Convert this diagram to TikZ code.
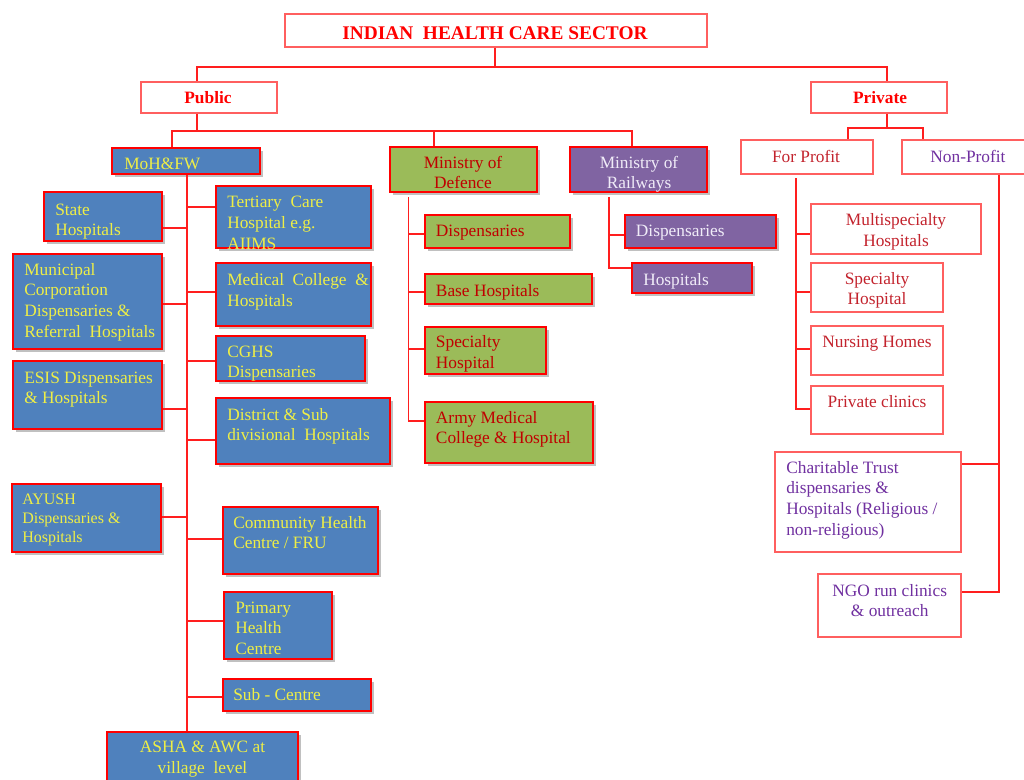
\documentclass[tikz,border=0pt]{standalone}
\usepackage{fontspec}
\setmainfont{Liberation Serif}
\usetikzlibrary{fit,shadows}
\definecolor{boxblue}{RGB}{79,129,189}
\definecolor{boxgreen}{RGB}{155,187,89}
\definecolor{boxpurple}{RGB}{128,100,162}
\definecolor{linered}{RGB}{255,30,30}
\definecolor{lightred}{RGB}{255,95,95}
\definecolor{txtyellow}{RGB}{238,238,70}
\definecolor{txtdark}{RGB}{192,0,0}
\definecolor{txtlav}{RGB}{240,236,248}
\definecolor{txtpurple}{RGB}{112,48,160}
\definecolor{txtred}{RGB}{195,35,45}
\newcommand\tl[1]{\begin{tabular}[t]{@{}l@{}}#1\end{tabular}}
\newcommand\tcn[1]{\begin{tabular}[t]{@{}c@{}}#1\end{tabular}}
\begin{document}
\begin{tikzpicture}[x=0.75pt,y=-0.75pt,
  shbox/.style={draw=red, line width=1.5pt, inner sep=0pt,
    drop shadow={shadow xshift=2pt, shadow yshift=-2pt, opacity=0.35, fill=black!70}},
  bluebox/.style={shbox, fill=boxblue},
  greenbox/.style={shbox, fill=boxgreen},
  purplebox/.style={shbox, fill=boxpurple},
  whitebox/.style={draw=lightred, line width=1.2pt, fill=white, inner sep=0pt},
  conn/.style={draw=linered, line width=1.4pt},
  txt/.style={inner sep=0pt, font=\fontsize{13}{15.5}\selectfont},
  lt/.style={txt, anchor=base west},
  ct/.style={txt, anchor=base},
  hdr/.style={inner sep=0pt, anchor=base, text=red, font=\fontsize{13}{15.5}\selectfont\bfseries}]
\useasboundingbox (0,0) rectangle (1024,779);
\fill[white] (0,0) rectangle (1024,779);

% ---------- top level ----------
\node[whitebox, fit={(285,14)(707,47)}] (title) {};
\node[hdr, font=\fontsize{14.5}{17}\selectfont\bfseries] (title-t) at (495,39.3) {INDIAN\ \ HEALTH CARE SECTOR};
\node[whitebox, fit={(141,82)(277,113)}] (public) {};
\node[hdr] (public-t) at (208,103) {Public};
\node[whitebox, fit={(811,82)(947,113)}] (private) {};
\node[hdr] (private-t) at (880,103) {Private};

% ---------- ministries ----------
\node[bluebox, fit={(112,148)(260,174)}] (moh) {};
\node[lt, text=txtyellow] (moh-t) at (124,169) {MoH\&FW};
\node[greenbox, fit={(390,147)(537,192)}] (mod) {};
\node[ct, text=txtdark] (mod-t) at (463,168) {\tcn{Ministry of\\Defence}};
\node[purplebox, fit={(570,147)(707,192)}] (rail) {};
\node[ct, text=txtlav] (rail-t) at (639,168) {\tcn{Ministry of\\Railways}};
\node[whitebox, fit={(741,140)(873,174)}] (forp) {};
\node[ct, text=txtred] (forp-t) at (806,162) {For Profit};
\node[whitebox, fit={(902,140)(1028,174)}] (nonp) {};
\node[ct, text=txtpurple] (nonp-t) at (968,162) {Non-Profit};

% ---------- MoH&FW children ----------
\node[bluebox, fit={(44,192)(162,241)}] (state) {};
\node[lt, text=txtyellow] (state-t) at (55,215) {\tl{State\\Hospitals}};
\node[bluebox, fit={(216,186)(371,248)}] (tert) {};
\node[lt, text=txtyellow] (tert-t) at (227,207.7) {\tl{Tertiary\ \ Care\\Hospital e.g.\\AIIMS}};
\node[bluebox, fit={(13,254)(162,349)}] (muni) {};
\node[lt, text=txtyellow] (muni-t) at (24,275) {\tl{Municipal\\Corporation\\Dispensaries \&\\Referral\ \ Hospitals}};
\node[bluebox, fit={(216,263)(371,326)}] (med) {};
\node[lt, text=txtyellow] (med-t) at (227,285.7) {\tl{Medical\ \ College\ \ \&\\Hospitals}};
\node[bluebox, fit={(216,336)(365,381)}] (cghs) {};
\node[lt, text=txtyellow] (cghs-t) at (227,357) {\tl{CGHS\\Dispensaries}};
\node[bluebox, fit={(13,361)(162,429)}] (esis) {};
\node[lt, text=txtyellow] (esis-t) at (24,383) {\tl{ESIS Dispensaries\\\& Hospitals}};
\node[bluebox, fit={(216,398)(390,464)}] (dist) {};
\node[lt, text=txtyellow] (dist-t) at (227,420) {\tl{District \& Sub\\divisional\ \ Hospitals}};
\node[bluebox, fit={(12,484)(161,552)}] (ayush) {};
\node[lt, text=txtyellow, font=\fontsize{12}{14.25}\selectfont] (ayush-t) at (22,504) {\tl{AYUSH\\Dispensaries \&\\Hospitals}};
\node[bluebox, fit={(223,507)(378,574)}] (chc) {};
\node[lt, text=txtyellow] (chc-t) at (233,528) {\tl{Community Health\\Centre / FRU}};
\node[bluebox, fit={(224,592)(332,659)}] (phc) {};
\node[lt, text=txtyellow] (phc-t) at (235,613) {\tl{Primary\\Health\\Centre}};
\node[bluebox, fit={(223,679)(371,711)}] (sub) {};
\node[lt, text=txtyellow] (sub-t) at (233,700) {Sub - Centre};
\node[bluebox, fit={(107,732)(298,792)}] (asha) {};
\node[ct, text=txtyellow] (asha-t) at (202.5,752.7) {\tcn{ASHA \& AWC at\\village\ \ level}};

% ---------- Defence children ----------
\node[greenbox, fit={(425,215)(570,248)}] (ddisp) {};
\node[lt, text=txtdark] (ddisp-t) at (435.7,236) {Dispensaries};
\node[greenbox, fit={(425,274)(592,304)}] (dbase) {};
\node[lt, text=txtdark] (dbase-t) at (435.7,296) {Base Hospitals};
\node[greenbox, fit={(425,327)(546,374)}] (dspec) {};
\node[lt, text=txtdark] (dspec-t) at (435.7,347.5) {\tl{Specialty\\Hospital}};
\node[greenbox, fit={(425,402)(593,463)}] (army) {};
\node[lt, text=txtdark] (army-t) at (435.7,423) {\tl{Army Medical\\College \& Hospital}};

% ---------- Railways children ----------
\node[purplebox, fit={(625,215)(776,248)}] (rdisp) {};
\node[lt, text=txtlav] (rdisp-t) at (635.7,236) {Dispensaries};
\node[purplebox, fit={(632,263)(752,293)}] (rhosp) {};
\node[lt, text=txtlav] (rhosp-t) at (643,285) {Hospitals};

% ---------- For profit children ----------
\node[whitebox, fit={(811,204)(981,254)}] (multi) {};
\node[ct, text=txtred] (multi-t) at (896,225.7) {\tcn{Multispecialty\\Hospitals}};
\node[whitebox, fit={(811,263)(943,312)}] (pspec) {};
\node[ct, text=txtred] (pspec-t) at (877,284) {\tcn{Specialty\\Hospital}};
\node[whitebox, fit={(811,326)(943,375)}] (nurs) {};
\node[ct, text=txtred] (nurs-t) at (877,347.7) {Nursing Homes};
\node[whitebox, fit={(811,386)(943,434)}] (clin) {};
\node[ct, text=txtred] (clin-t) at (877,407.7) {Private clinics};

% ---------- Non-profit children ----------
\node[whitebox, fit={(775,452)(961,552)}] (char) {};
\node[lt, text=txtpurple] (char-t) at (786,473) {\tl{Charitable Trust\\dispensaries \&\\Hospitals (Religious /\\non-religious)}};
\node[whitebox, fit={(818,574)(961,637)}] (ngo) {};
\node[ct, text=txtpurple] (ngo-t) at (889.7,596) {\tcn{NGO run clinics\\\& outreach}};

% ---------- connectors ----------
\coordinate (jt) at (495,66.7);
\coordinate (jpub) at (196.7,66.7);
\coordinate (jpri) at (887,66.7);
\draw[conn] (title.south -| jt) -- (jt);
\draw[conn] (public.north -| jpub) -- (jpub) -- (jpri) -- (private.north -| jpri);

\coordinate (pb) at (196.7,130.7);
\coordinate (pl) at (171.7,130.7);
\coordinate (pm) at (434,130.7);
\coordinate (pr) at (631.7,130.7);
\draw[conn] (public.south -| pb) -- (pb);
\draw[conn] (moh.north -| pl) -- (pl) -- (pr) -- (rail.north -| pr);
\draw[conn] (pm) -- (mod.north -| pm);

% MoH&FW trunk
\coordinate (mt) at (187,0);
\draw[conn] (moh.south -| mt) -- (asha.north -| mt);
\draw[conn] (state.east |- 0,228) -- (mt |- 0,228);
\draw[conn] (muni.east |- 0,303.7) -- (mt |- 0,303.7);
\draw[conn] (esis.east |- 0,408.7) -- (mt |- 0,408.7);
\draw[conn] (ayush.east |- 0,517) -- (mt |- 0,517);
\draw[conn] (mt |- 0,207) -- (tert.west |- 0,207);
\draw[conn] (mt |- 0,292) -- (med.west |- 0,292);
\draw[conn] (mt |- 0,361) -- (cghs.west |- 0,361);
\draw[conn] (mt |- 0,440) -- (dist.west |- 0,440);
\draw[conn] (mt |- 0,538.7) -- (chc.west |- 0,538.7);
\draw[conn] (mt |- 0,620.7) -- (phc.west |- 0,620.7);
\draw[conn] (mt |- 0,697) -- (sub.west |- 0,697);

% Defence trunk
\coordinate (dt) at (408.5,197);
\draw[conn] (dt) |- (army.west |- 0,421);
\draw[conn] (dt |- 0,234) -- (ddisp.west |- 0,234);
\draw[conn] (dt |- 0,292) -- (dbase.west |- 0,292);
\draw[conn] (dt |- 0,349) -- (dspec.west |- 0,349);

% Railways trunk
\coordinate (rt) at (608.7,197);
\draw[conn] (rt) |- (rhosp.west |- 0,267.7);
\draw[conn] (rt |- 0,234.7) -- (rdisp.west |- 0,234.7);

% Private branch
\coordinate (vb) at (887,127.7);
\coordinate (vl) at (848,127.7);
\coordinate (vr) at (922.7,127.7);
\draw[conn] (private.south -| vb) -- (vb);
\draw[conn] (forp.north -| vl) -- (vl) -- (vr) -- (nonp.north -| vr);

% For profit trunk
\coordinate (ft) at (796,178);
\draw[conn] (ft) |- (clin.west |- 0,409);
\draw[conn] (ft |- 0,234) -- (multi.west |- 0,234);
\draw[conn] (ft |- 0,292) -- (pspec.west |- 0,292);
\draw[conn] (ft |- 0,348.7) -- (nurs.west |- 0,348.7);

% Non-profit trunk
\coordinate (nt) at (999,0);
\draw[conn] (nonp.south -| nt) |- (ngo.east |- 0,592);
\draw[conn] (nt |- 0,464) -- (char.east |- 0,464);
\end{tikzpicture}
\end{document}
